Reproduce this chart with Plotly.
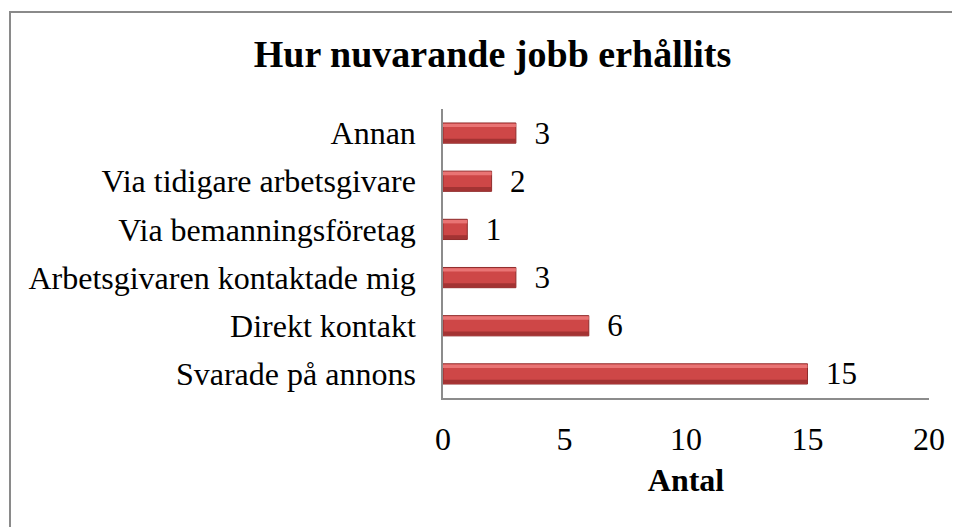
import plotly.graph_objects as go

categories = ["Svarade på annons", "Direkt kontakt", "Arbetsgivaren kontaktade mig",
              "Via bemanningsföretag", "Via tidigare arbetsgivare", "Annan"]
values = [15, 6, 3, 1, 2, 3]
x_ticks = [0, 5, 10, 15, 20]

FONT = "Liberation Serif, Times New Roman, serif"
W, H = 952, 519
L, T = 435, 101
PW, PH = 486, 289
R = W - L - PW
B = H - T - PH

fig = go.Figure()
# main bar
fig.add_trace(go.Bar(
    y=categories, x=values, orientation="h",
    marker=dict(color="#CE4747", line=dict(color="#8F2C2C", width=1)),
    width=0.42, offset=-0.21,
    text=["\u00a0\u00a0" + str(v) for v in values], textposition="outside",
    textfont=dict(family=FONT, size=31, color="#000"),
    constraintext="none",
    cliponaxis=False, hoverinfo="x+y",
))
# top highlight band
fig.add_trace(go.Bar(
    y=categories, x=values, orientation="h",
    marker=dict(color="#E97474", line=dict(width=0)),
    width=0.07, offset=0.125, hoverinfo="skip",
))
# bottom shading band
fig.add_trace(go.Bar(
    y=categories, x=values, orientation="h",
    marker=dict(color="#A33333", line=dict(width=0)),
    width=0.08, offset=-0.2, hoverinfo="skip",
))

fig.update_layout(
    width=W, height=H,
    margin=dict(l=L, r=R, t=T, b=B),
    paper_bgcolor="white", plot_bgcolor="white",
    showlegend=False, barmode="overlay",
    title=dict(text="<b>Hur nuvarande jobb erhållits</b>", x=484.5 / W, xref="container",
               xanchor="center", y=1 - 46 / H, yref="container", yanchor="middle",
               font=dict(family=FONT, size=38, color="#000")),
    xaxis=dict(range=[0, 20], tickvals=x_ticks, showgrid=False, zeroline=False,
               showline=True, linecolor="#8c8c8c", linewidth=1.5,
               ticks="", ticklabelstandoff=12,
               tickfont=dict(family=FONT, size=32, color="#000"),
               title=dict(text="<b>Antal</b>", standoff=12,
                          font=dict(family=FONT, size=32, color="#000"))),
    yaxis=dict(showgrid=False, zeroline=False, showline=True, linecolor="#8c8c8c",
               linewidth=1.5, ticks="", ticklabelstandoff=19,
               tickfont=dict(family=FONT, size=32, color="#000")),
    shapes=[dict(type="rect", xref="paper", yref="paper",
                 x0=(2 - L) / PW, x1=(975 - L) / PW,
                 y0=-(H + 20 - T - PH) / PH, y1=1 + (T - 4) / PH,
                 line=dict(color="#8a8a8a", width=2), layer="below")],
)
fig.write_html("out.html")
